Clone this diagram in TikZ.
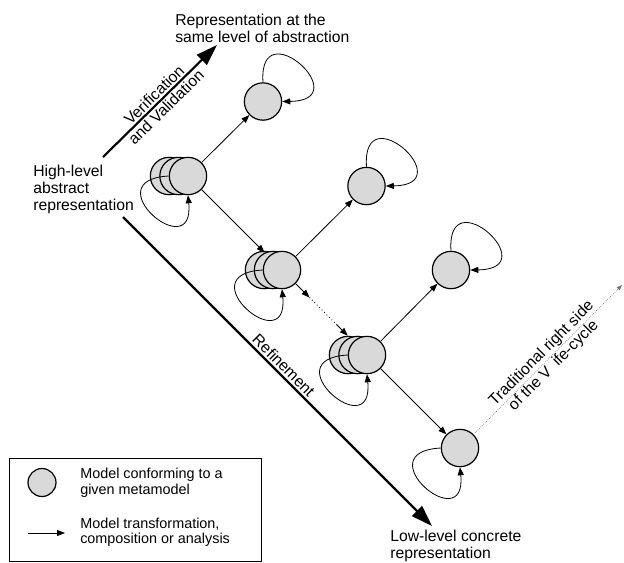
\documentclass[tikz,border=0pt]{standalone}
\usepackage{fontspec}
\setmainfont{Liberation Sans}
\usetikzlibrary{arrows.meta}
\definecolor{modelgray}{RGB}{217,217,217}

\begin{document}
\begin{tikzpicture}[x=0.75pt,y=-0.75pt,
	model/.style={circle,draw,fill=modelgray,line width=0.9pt,minimum size=28pt,inner sep=0pt},
	txt/.style={font=\fontsize{11.8}{12.75}\selectfont,align=left,inner sep=0pt},
	legtxt/.style={font=\fontsize{10.8}{11.4}\selectfont,align=left,inner sep=0pt},
	lbl/.style={font=\fontsize{11.8}{12.75}\selectfont,text=black,align=center,sloped,inner sep=1.5pt},
	trans/.style={line width=0.6pt,-{Triangle[length=6pt,width=4.5pt]}},
	bigarrow/.style={line width=1.6pt,-{Triangle[length=16pt,width=10.5pt]}},
	vline/.style={black!55,densely dotted,line width=0.5pt,-{Triangle[length=4pt,width=3pt]}}]

	\useasboundingbox (0,0) rectangle (624,562);

	\coordinate (vv1) at (103,157);
	\coordinate (vv2) at (217,45);
	\coordinate (rf1) at (123,217);
	\coordinate (rf2) at (432,526);
	\coordinate (d1) at (309.5,297.5);
	\coordinate (d2) at (337,325);
	\coordinate (vtop) at (622,285);
	\coordinate (la1) at (28,533);
	\coordinate (la2) at (65,533);

	% models
	\node[model] (s1b) at (169,176) {};
	\node[model] (s1m) at (178.5,176) {};
	\node[model] (s1) at (188,176) {};
	\node[model] (s2b) at (264,270) {};
	\node[model] (s2m) at (273,270) {};
	\node[model] (s2) at (282,270) {};
	\node[model] (s3b) at (348,355) {};
	\node[model] (s3m) at (357.5,355) {};
	\node[model] (s3) at (367,355) {};
	\node[model] (a1) at (263,101.5) {};
	\node[model] (a2) at (366.5,186) {};
	\node[model] (a3) at (451,270) {};
	\node[model] (n4) at (460,448) {};

	% self loops
	\foreach \m in {a1,a2,a3}
		\draw[trans] (\m.north) .. controls +(-5,-73) and +(76,-1) .. (\m.east);
	\foreach \m in {s1,s2,s3,n4}
		\draw[trans] (\m.west) .. controls +(-76,4) and +(7,72) .. (\m.south);

	% transformations
	\draw[trans] (s1) -- (a1);
	\draw[trans,shorten >=4pt] (s1) -- (s2);
	\draw[trans] (s2) -- (a2);
	\draw[trans] (s2) -- (d1);
	\draw[line width=0.6pt,dotted] (d1) -- (d2);
	\draw[trans,shorten >=6pt] (d2) -- (s3);
	\draw[trans] (s3) -- (a3);
	\draw[trans] (s3) -- (n4);
	\draw[vline] (n4) -- node[lbl] {Traditional right side\\of the V\hspace{0.5em}ife-cycle} (vtop);

	% big arrows
	\draw[bigarrow] (vv1) -- node[lbl] {Verification\\and Validation} (vv2);
	\draw[bigarrow] (rf1) -- node[lbl,above] {Refinement} (rf2);

	\node[txt,anchor=base west] (high) at (33,210) {High-level\\abstract\\representation};
	\node[txt,anchor=base west] (same) at (175,42.7) {Representation at the\\same level of abstraction};
	\node[txt,anchor=base west] (low) at (390,558) {Low-level concrete\\representation};

	% legend
	\draw[line width=0.75pt] (9,458) rectangle (261,561);
	\node[model,minimum size=21pt] (lm) at (42,482.5) {};
	\draw[trans] (la1) -- (la2);
	\node[legtxt,anchor=base west] (lmtxt) at (80,494) {Model conforming to a\\given metamodel};
	\node[legtxt,anchor=base west] (latxt) at (80,543.3) {Model transformation,\\composition or analysis};

\end{tikzpicture}
\end{document}
